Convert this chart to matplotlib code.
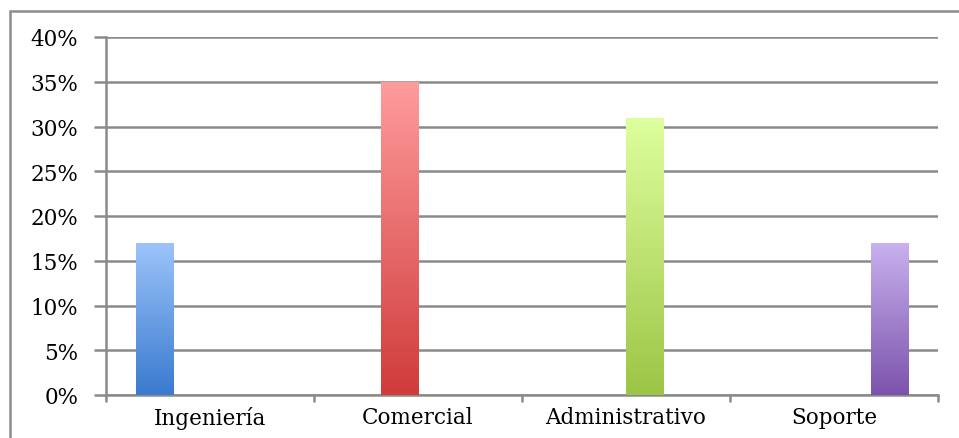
import numpy as np
import matplotlib
matplotlib.use("Agg")
import matplotlib.pyplot as plt
from matplotlib.colors import LinearSegmentedColormap
from matplotlib.patches import Rectangle
from matplotlib.ticker import FuncFormatter, MultipleLocator

categories = ["Ingeniería", "Comercial", "Administrativo", "Soporte"]
values = [0.17, 0.35, 0.31, 0.17]
top_colors = ["#9CC4FA", "#FF9C9C", "#DEFF9E", "#C9B2EF"]
bottom_colors = ["#3A7ACF", "#D03B3B", "#9CC545", "#7C53AC"]

plt.rcParams["font.family"] = ["DejaVu Serif"]

fig = plt.figure(figsize=(9.59, 4.39), dpi=100)
ax = fig.add_axes([106 / 959, 1 - 396 / 439, (938 - 106) / 959, (396 - 38) / 439])

# outer chart frame
fig.patches.append(Rectangle((10 / 959, -0.05), 1.1, 1 - 12 / 439 + 0.05,
                             transform=fig.transFigure, fill=False,
                             edgecolor="#8c8c8c", linewidth=1.8))

n = len(categories)
x = np.arange(n)
width = 0.178
offsets = (np.arange(n) - (n - 1) / 2) * width

grad = np.linspace(0, 1, 256).reshape(-1, 1)
for i, (cat, val) in enumerate(zip(categories, values)):
    xc = x[i] + offsets[i]
    bars = ax.bar(xc, val, width=width, color="none", edgecolor="none", zorder=3)
    rect = bars[0]
    cmap = LinearSegmentedColormap.from_list(cat, [bottom_colors[i], top_colors[i]])
    im = ax.imshow(grad, cmap=cmap, origin="lower", aspect="auto",
                   extent=(xc - width / 2, xc + width / 2, 0, val), zorder=3)
    im.set_clip_path(rect)

ax.set_xlim(-0.5, n - 0.5)
ax.set_ylim(0, 0.40)

ax.yaxis.set_major_locator(MultipleLocator(0.05))
ax.yaxis.set_major_formatter(FuncFormatter(lambda v, p: f"{v * 100:.0f}%"))
ax.grid(axis="y", color="#8a8a8a", linewidth=1.8, zorder=0)
ax.set_axisbelow(True)

ax.set_xticks(np.arange(n + 1) - 0.5)
ax.set_xticklabels([])
ax.set_xticks(x, minor=True)
ax.set_xticklabels(categories, minor=True)
ax.tick_params(axis="x", which="minor", length=0, pad=8, labelsize=15.5)
ax.tick_params(axis="x", which="major", length=5, width=1.8, color="#8a8a8a")
ax.tick_params(axis="y", length=9, width=1.8, color="#8a8a8a", pad=11, labelsize=15.5)

for side in ["top", "right"]:
    ax.spines[side].set_visible(False)
for side in ["left", "bottom"]:
    ax.spines[side].set_color("#8a8a8a")
    ax.spines[side].set_linewidth(1.8)

fig.savefig("out.png", dpi=100)
